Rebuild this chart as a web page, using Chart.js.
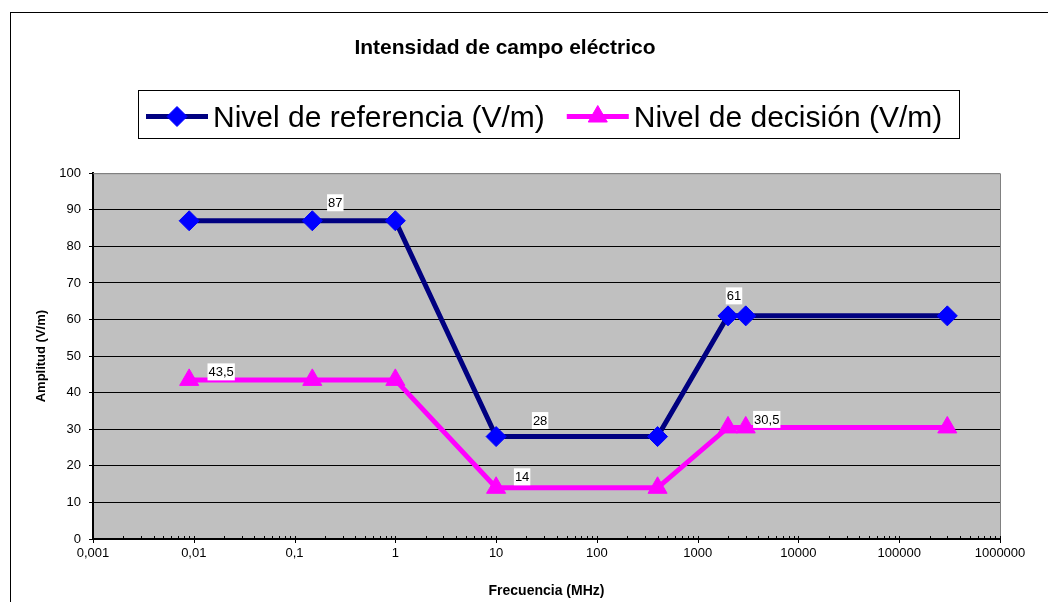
<!DOCTYPE html>
<html>
<head>
<meta charset="utf-8">
<script src="https://cdn.jsdelivr.net/npm/chart.js@4/dist/chart.umd.min.js"></script>
<style>
html, body { margin: 0; padding: 0; background: #fff; }
canvas { display: block; }
</style>
</head>
<body>
<canvas id="campoChart" width="1048" height="602"></canvas>
<script>
// datos
const frecuencias = [0.009, 0.15, 1, 10, 400, 2000, 3000, 300000];
const nivelReferencia = [87, 87, 87, 28, 28, 61, 61, 61];
const nivelDecision = [43.5, 43.5, 43.5, 14, 14, 30.5, 30.5, 30.5];
const decadas = [0.001, 0.01, 0.1, 1, 10, 100, 1000, 10000, 100000, 1000000];
const amplitudTicks = [0, 10, 20, 30, 40, 50, 60, 70, 80, 90, 100];
const nombresSeries = ["Nivel de referencia (V/m)", "Nivel de decisión (V/m)"];

const fuente = "'Liberation Sans', Arial, sans-serif";
Chart.defaults.font.family = fuente;
Chart.defaults.color = "#000";

function conComa(v){
    return String(v).replace(".", ",");
}

// fondo, marco exterior y area gris
const fondoPlugin = {
    id: "fondo",
    beforeDraw(chart){
        const ctx = chart.ctx;
        const a = chart.chartArea;
        ctx.save();
        ctx.fillStyle = "#fff";
        ctx.fillRect(0, 0, chart.width, chart.height);
        ctx.strokeStyle = "#000";
        ctx.lineWidth = 1;
        ctx.strokeRect(10.5, 12.5, 1200, 800);
        ctx.fillStyle = "#C0C0C0";
        ctx.fillRect(a.left, a.top, a.right - a.left, a.bottom - a.top);
        ctx.restore();
    },
    beforeDatasetsDraw(chart){
        const ctx = chart.ctx;
        const a = chart.chartArea;
        ctx.save();
        ctx.strokeStyle = "#808080";
        ctx.lineWidth = 1;
        ctx.beginPath();
        ctx.moveTo(a.left, a.top + 0.5);
        ctx.lineTo(a.right + 0.5, a.top + 0.5);
        ctx.lineTo(a.right + 0.5, a.bottom);
        ctx.stroke();
        // marcas del eje x (mayores cruzan, menores hacia dentro)
        const sx = chart.scales.x;
        ctx.strokeStyle = "#000";
        sx.ticks.forEach(t => {
            const px = Math.round(sx.getPixelForValue(t.value)) + 0.5;
            const mayor = decadas.includes(t.value);
            ctx.beginPath();
            ctx.moveTo(px, a.bottom - 3);
            ctx.lineTo(px, a.bottom + (mayor ? 4 : 0));
            ctx.stroke();
        });
        ctx.restore();
    }
};

// etiquetas de valores con fondo blanco
const etiquetasPlugin = {
    id: "etiquetas",
    afterDatasetsDraw(chart, args, opts){
        const ctx = chart.ctx;
        ctx.save();
        ctx.font = "13px " + fuente;
        ctx.textAlign = "center";
        ctx.textBaseline = "middle";
        opts.lista.forEach(e => {
            const p = chart.getDatasetMeta(e.ds).data[e.i];
            const val = chart.data.datasets[e.ds].data[e.i].y;
            const txt = conComa(val);
            const w = ctx.measureText(txt).width + 2;
            const cx = p.x + e.dx;
            const cy = p.y + e.dy;
            ctx.fillStyle = "#fff";
            ctx.fillRect(cx - w / 2, cy - 8.5, w, 17);
            ctx.fillStyle = "#000";
            ctx.fillText(txt, cx, cy + 0.5);
        });
        ctx.restore();
    }
};

// leyenda con linea y marcador
const leyendaPlugin = {
    id: "leyendaLinea",
    afterDraw(chart, args, opts){
        const ctx = chart.ctx;
        ctx.save();
        ctx.fillStyle = "#fff";
        ctx.fillRect(opts.x, opts.y, opts.w, opts.h);
        ctx.strokeStyle = "#000";
        ctx.lineWidth = 1;
        ctx.strokeRect(opts.x + 0.5, opts.y + 0.5, opts.w, opts.h);
        ctx.font = opts.size + "px " + fuente;
        ctx.textBaseline = "middle";
        const cy = opts.y + 26.5;
        let x = opts.x + 8;
        chart.data.datasets.forEach(ds => {
            ctx.strokeStyle = ds.borderColor;
            ctx.lineWidth = 5;
            ctx.beginPath();
            ctx.moveTo(x, cy);
            ctx.lineTo(x + 62, cy);
            ctx.stroke();
            ctx.fillStyle = ds.pointBackgroundColor;
            ctx.strokeStyle = ds.pointBorderColor;
            ctx.lineWidth = 1;
            Chart.helpers.drawPoint(ctx, {pointStyle: ds.pointStyle, radius: ds.pointRadius, borderWidth: 1}, x + 31, cy);
            ctx.fillStyle = "#000";
            ctx.fillText(ds.label, x + 67, cy + 2);
            x += 67 + ctx.measureText(ds.label).width + 22;
        });
        ctx.restore();
    }
};

const ticksX = [];
decadas.forEach((d, k) => {
    for(let m = 1; m <= 9; m++){
        if(k === decadas.length - 1 && m > 1) break;
        ticksX.push(Number((d * m).toPrecision(3)));
    }
});

new Chart("campoChart", {
    type: "line",
    data: {
        datasets: [
            {
                label: nombresSeries[0],
                data: frecuencias.map((f, i) => ({x: f, y: nivelReferencia[i]})),
                borderColor: "#000080",
                borderWidth: 5,
                pointStyle: "rectRot",
                pointRadius: 10,
                pointBackgroundColor: "#0000FF",
                pointBorderColor: "#0000FF",
                pointBorderWidth: 1,
                tension: 0
            },
            {
                label: nombresSeries[1],
                data: frecuencias.map((f, i) => ({x: f, y: nivelDecision[i]})),
                borderColor: "#FF00FF",
                borderWidth: 5,
                pointStyle: "triangle",
                pointRadius: 11,
                pointBackgroundColor: "#FF00FF",
                pointBorderColor: "#FF00FF",
                pointBorderWidth: 1,
                tension: 0
            }
        ]
    },
    options: {
        responsive: false,
        animation: false,
        devicePixelRatio: 1,
        layout: {
            padding: {left: 10, right: 48, top: 0, bottom: 0}
        },
        scales: {
            x: {
                type: "logarithmic",
                min: 0.001,
                max: 1000000,
                afterBuildTicks(scale){
                    scale.ticks = ticksX.map(v => ({value: v}));
                },
                afterFit(scale){
                    scale.height = 63;
                },
                ticks: {
                    autoSkip: false,
                    maxRotation: 0,
                    padding: 7,
                    font: {size: 13},
                    callback: v => decadas.includes(v) ? conComa(v) : ""
                },
                grid: {display: false, drawTicks: false},
                border: {display: true, color: "#000", width: 2},
                title: {
                    display: true,
                    text: "Frecuencia (MHz)",
                    font: {size: 14, weight: "bold"},
                    padding: {top: 2, bottom: 2}
                }
            },
            y: {
                min: 0,
                max: 100,
                afterBuildTicks(scale){
                    scale.ticks = amplitudTicks.map(v => ({value: v}));
                },
                afterFit(scale){
                    scale.width = 83;
                },
                ticks: {
                    padding: 8,
                    font: {size: 13}
                },
                grid: {
                    color: c => c.tick && c.tick.value === 100 ? "#808080" : "#000",
                    tickColor: "#000",
                    tickLength: 4,
                    lineWidth: 1
                },
                border: {display: true, color: "#000", width: 2},
                title: {
                    display: true,
                    text: "Amplitud (V/m)",
                    font: {size: 13, weight: "bold"},
                    padding: {top: 24, bottom: 4}
                }
            }
        },
        plugins: {
            legend: {display: false},
            tooltip: {enabled: false},
            title: {
                display: true,
                text: "Intensidad de campo eléctrico",
                font: {size: 21, weight: "bold"},
                color: "#000",
                padding: {top: 36, bottom: 112}
            },
            leyendaLinea: {x: 138, y: 90, w: 821, h: 48, size: 30},
            etiquetas: {
                lista: [
                    {ds: 0, i: 1, dx: 23, dy: -18},
                    {ds: 1, i: 0, dx: 32, dy: -8},
                    {ds: 0, i: 3, dx: 44, dy: -16},
                    {ds: 1, i: 3, dx: 26, dy: -11},
                    {ds: 0, i: 5, dx: 6, dy: -20},
                    {ds: 1, i: 6, dx: 21, dy: -8}
                ]
            }
        }
    },
    plugins: [fondoPlugin, etiquetasPlugin, leyendaPlugin]
});
</script>
</body>
</html>
